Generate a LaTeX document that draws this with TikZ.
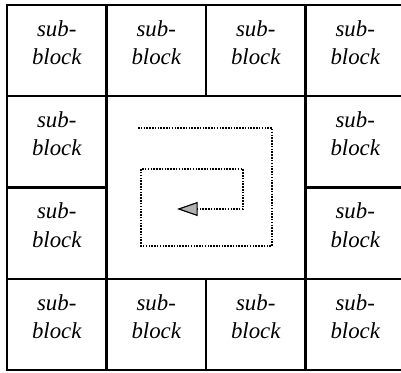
\documentclass[tikz,border=0pt]{standalone}
\usepackage{fontspec}
\setmainfont{Liberation Serif}
\usetikzlibrary{arrows.meta}

\begin{document}
\begin{tikzpicture}[x=0.03cm,y=-0.03cm,
 cell/.style={draw,line width=2pt,minimum width=2.985cm,minimum height=2.7375cm,inner sep=0pt,
  align=center,text depth=0.48cm,font=\fontsize{19.5}{24}\selectfont\itshape},
 trail/.style={line width=1.3pt,dash pattern=on 1.3pt off 1.1pt}]
\useasboundingbox (0,0) rectangle (401,372);
% ring of sub-blocks round the centre
\foreach \r in {1,...,4}
 \foreach \c in {1,...,4} {
  \pgfmathtruncatemacro{\inner}{(\r>1)*(\r<4)*(\c>1)*(\c<4)}
  \ifnum\inner=0
   \node[cell] (b\r\c) at ({7+99.5*(\c-0.5)},{5+91.25*(\r-0.5)}) {sub-\\block};
  \fi
 }
% spiral path inside
\coordinate (s0) at (138,128);
\coordinate (s1) at (141,246);
\coordinate (s2) at (141,169);
\coordinate (s3) at (243,169);
\coordinate (s4) at (243,209);
\coordinate (tip) at (177,209);
\draw[trail,-{Triangle[length=0.62cm,width=0.42cm,fill=gray!60,line width=1pt]}]
 (s0) -| (272,246) -- (s1) -- (s2) -- (s3) -- (s4) -- (tip);
\end{tikzpicture}
\end{document}
